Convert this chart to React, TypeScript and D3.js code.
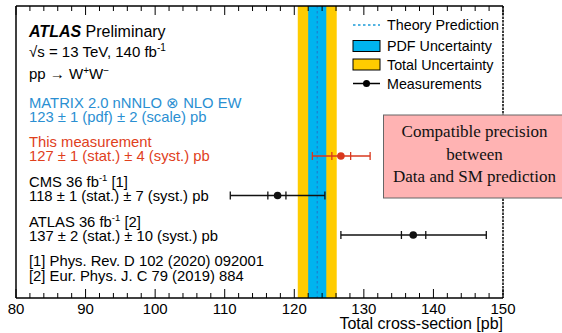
import React from "react";
import * as d3 from "d3";

const W = 562;
const H = 333;

// ---- data ----
const xTicks = [80, 90, 100, 110, 120, 130, 140, 150];
const theoryCentral = 123.3;
const pdfBand = [122.0, 124.6];
const totalBand = [120.5, 126.1];

const measNames = ["This measurement", "CMS", "ATLAS 36"];
const measValues = [126.7, 117.6, 137.1];
const measStatLo = [125.4, 116.2, 135.4];
const measStatHi = [128.1, 118.8, 138.9];
const measTotLo = [122.6, 110.8, 126.7];
const measTotHi = [130.9, 124.4, 147.6];
const measColors = ["#d9381e", "#111", "#111"];

const legendLabels = ["Theory Prediction", "PDF Uncertainty", "Total Uncertainty", "Measurements"];
const boxLines = ["Compatible precision", "between", "Data and SM prediction"];

const BLUE = "#00b4ef";
const YELLOW = "#ffcc00";
const TXT_BLUE = "#2a8fd2";
const TXT_RED = "#e0401c";

const sans = "'Liberation Sans', Arial, Helvetica, sans-serif";

export default function App() {
  const left = 16, right = 503, top = 6, bottom = 298;
  const x = d3.scaleLinear().domain([80, 150]).range([left, right]);
  const y = d3.scaleLinear().domain([0, 2]).range([156, 235]);
  const minor = d3.range(80, 150.001, 2);

  return (
    <svg width={W} height={H} style={{ position: "absolute", left: 0, top: 0 }} fontFamily={sans}>
      <rect x={0} y={0} width={W} height={H} fill="#fff" />
      {/* bands */}
      <rect x={x(totalBand[0])} y={top} width={x(totalBand[1]) - x(totalBand[0])} height={bottom - top} fill={YELLOW} />
      <rect x={x(pdfBand[0])} y={top} width={x(pdfBand[1]) - x(pdfBand[0])} height={bottom - top} fill={BLUE} />
      <line x1={x(theoryCentral)} x2={x(theoryCentral)} y1={top} y2={bottom} stroke="#1a7fd0" strokeWidth={1.2} strokeDasharray="2.5 2.5" />

      {/* frame */}
      <line x1={left} x2={right} y1={top} y2={top} stroke="#000" strokeWidth={1.3} />
      <line x1={left} x2={right} y1={bottom} y2={bottom} stroke="#000" strokeWidth={1.5} />
      <line x1={left} x2={left} y1={top} y2={bottom} stroke="#000" strokeWidth={1.5} />
      <line x1={right} x2={right} y1={top} y2={bottom} stroke="#000" strokeWidth={1.5} strokeDasharray="2.5 1" />

      {/* ticks */}
      {minor.map((v) => {
        const major = Math.abs(v % 10) < 1e-6;
        const len = major ? 9 : 5;
        return (
          <g key={v}>
            <line x1={x(v)} x2={x(v)} y1={top} y2={top + len} stroke="#000" strokeWidth={1} />
            <line x1={x(v)} x2={x(v)} y1={bottom} y2={bottom - len} stroke="#000" strokeWidth={1} />
          </g>
        );
      })}
      {xTicks.map((v) => (
        <text key={v} x={x(v)} y={313.5} fontSize={15} textAnchor="middle" fill="#000">{v}</text>
      ))}
      <text x={right} y={328.5} fontSize={16} textAnchor="end" fill="#000">Total cross-section [pb]</text>

      {/* measurements */}
      {measValues.map((v, i) => {
        const yy = y(i);
        const c = measColors[i];
        return (
          <g key={i} stroke={c} strokeWidth={1.3}>
            <line x1={x(measTotLo[i])} x2={x(measTotHi[i])} y1={yy} y2={yy} />
            {[measTotLo[i], measTotHi[i], measStatLo[i], measStatHi[i]].map((e, k) => (
              <line key={k} x1={x(e)} x2={x(e)} y1={yy - 4} y2={yy + 4} />
            ))}
            <circle cx={x(v)} cy={yy} r={3.8} fill={c} stroke="none" />
          </g>
        );
      })}

      {/* left text block */}
      <g fill="#000">
        <text x={29} y={36.5} fontSize={16}>
          <tspan fontWeight="bold" fontStyle="italic">ATLAS</tspan>
          <tspan> Preliminary</tspan>
        </text>
        <text x={29} y={57} fontSize={15}>
          {"\u221As = 13 TeV, 140 fb"}
          <tspan fontSize={10} dy={-6}>-1</tspan>
        </text>
        <text x={29} y={79} fontSize={15}>
          {"pp \u2192 W"}
          <tspan fontSize={10} dy={-5}>+</tspan>
          <tspan dy={5}>W</tspan>
          <tspan fontSize={10} dy={-5}>{"\u2212"}</tspan>
        </text>
      </g>
      <g fontSize={14.8}>
        <text x={29} y={108} fill={TXT_BLUE}>{"MATRIX 2.0 nNNLO \u2297 NLO EW"}</text>
        <text x={29} y={121.5} fill={TXT_BLUE}>{"123 \u00B1 1 (pdf) \u00B1 2 (scale) pb"}</text>
        <text x={29} y={146.5} fill={TXT_RED}>This measurement</text>
        <text x={29} y={160.5} fill={TXT_RED}>{"127 \u00B1 1 (stat.) \u00B1 4 (syst.) pb"}</text>
        <text x={29} y={187} fill="#000">
          {"CMS 36 fb"}
          <tspan fontSize={9.5} dy={-6}>-1</tspan>
          <tspan dy={6}>{" [1]"}</tspan>
        </text>
        <text x={29} y={201} fill="#000">{"118 \u00B1 1 (stat.) \u00B1 7 (syst.) pb"}</text>
        <text x={29} y={226.5} fill="#000">
          {"ATLAS 36 fb"}
          <tspan fontSize={9.5} dy={-6}>-1</tspan>
          <tspan dy={6}>{" [2]"}</tspan>
        </text>
        <text x={29} y={241} fill="#000">{"137 \u00B1 2 (stat.) \u00B1 10 (syst.) pb"}</text>
        <text x={29} y={266} fill="#000">[1] Phys. Rev. D 102 (2020) 092001</text>
        <text x={29} y={280.5} fill="#000">[2] Eur. Phys. J. C 79 (2019) 884</text>
      </g>

      {/* legend */}
      <g fontSize={14.3} fill="#000">
        <line x1={353} x2={380} y1={25} y2={25} stroke="#1a9ad8" strokeWidth={1.5} strokeDasharray="2.5 2.5" />
        <rect x={353} y={40.5} width={27} height={11} fill={BLUE} stroke="#000" strokeWidth={1} />
        <rect x={353} y={59} width={27} height={11} fill={YELLOW} stroke="#000" strokeWidth={1} />
        <line x1={353} x2={380} y1={83.5} y2={83.5} stroke="#000" strokeWidth={1.5} />
        <circle cx={366.5} cy={83.5} r={3.5} fill="#000" />
        {legendLabels.map((l, i) => (
          <text key={l} x={387} y={[30, 50.5, 69.5, 88.5][i]}>{l}</text>
        ))}
      </g>

      {/* annotation box */}
      <rect x={383.5} y={115} width={185} height={83} fill="#ffb3b3" stroke="#666" strokeWidth={1} />
      <g fontFamily="'Liberation Serif', 'Times New Roman', serif" fontSize={17} fill="#111" textAnchor="middle">
        {boxLines.map((l, i) => (
          <text key={l} x={474.5} y={137 + i * 22.5}>{l}</text>
        ))}
      </g>
    </svg>
  );
}
